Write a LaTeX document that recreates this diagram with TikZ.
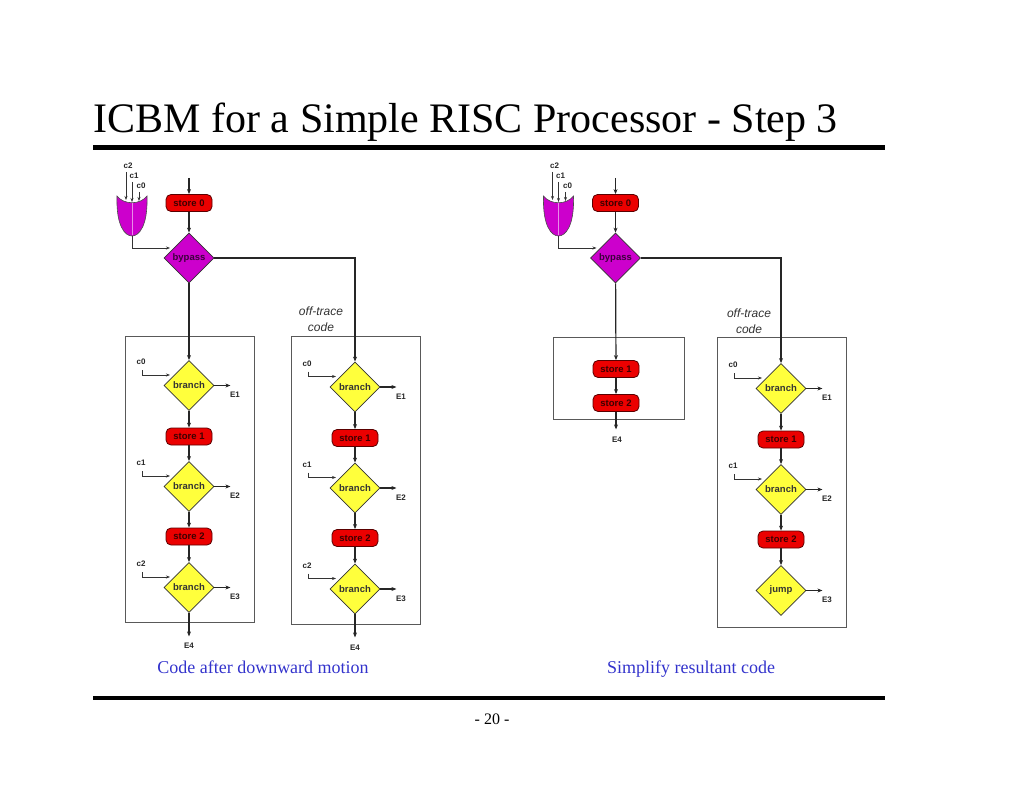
\documentclass[tikz,border=0pt]{standalone}
\usepackage{fontspec}
\setmainfont{Liberation Serif}
\setsansfont{Liberation Sans}
\usepackage{tikz}
\usetikzlibrary{shapes.geometric,calc,arrows.meta}
\definecolor{storered}{RGB}{235,0,0}
\definecolor{storeedge}{RGB}{90,0,0}
\definecolor{storetext}{RGB}{60,0,0}
\definecolor{bypassmag}{RGB}{204,0,204}
\definecolor{bypasstext}{RGB}{60,0,60}
\definecolor{testyellow}{RGB}{255,255,60}
\definecolor{capblue}{RGB}{51,51,204}

\begin{document}
\begin{tikzpicture}[x=1pt,y=-1pt,
    flow/.style={line width=1.2pt, draw=black!85, -{Stealth[length=5pt,width=4pt]}},
    cond/.style={line width=0.6pt, draw=black!80, -{Stealth[length=4pt,width=3pt]}},
    storebox/.style={rectangle, rounded corners=5pt, fill=storered, draw=storeedge, line width=0.8pt,
      minimum width=46pt, minimum height=17pt, inner sep=0pt,
      font=\sffamily\bfseries\fontsize{9.5}{9.5}\selectfont, text=storetext},
    test/.style={diamond, minimum width=50pt, minimum height=50pt, inner sep=0pt, draw=black!80,
      line width=0.8pt, fill=testyellow, font=\sffamily\bfseries\fontsize{9.5}{9.5}\selectfont, text=black!80},
    bypassnode/.style={test, fill=bypassmag, text=bypasstext},
    tag/.style={font=\sffamily\bfseries\fontsize{8}{8}\selectfont, text=black!85},
    region/.style={draw=black!65, line width=0.7pt},
    caption/.style={font=\fontsize{18}{18}\selectfont, text=capblue, anchor=base}]
  \useasboundingbox (0,0) rectangle (1024,791);

  % title and rules
  \node[anchor=base west, font=\fontsize{42}{42}\selectfont] (title) at (90,133)
    {ICBM for a Simple RISC Processor - Step 3};
  \draw[line width=5pt] (93,147.5) -- (885,147.5);
  \draw[line width=4.5pt] (93,698) -- (885,698);
  \node[font=\fontsize{16}{16}\selectfont, anchor=base] (page) at (492,724) {- 20 -};

  % regions
  \draw[region] (125,336) rectangle (254,622);
  \draw[region] (291,336) rectangle (420,624);
  \draw[region] (553,337) rectangle (684,419);
  \draw[region] (717,337) rectangle (846,627);
  \node[align=center, font=\sffamily\itshape\fontsize{12}{16}\selectfont, text=black!80] (otl) at (321,319) {off-trace\\code};
  \node[align=center, font=\sffamily\itshape\fontsize{12}{16}\selectfont, text=black!80] (otr) at (749,321) {off-trace\\code};

  % store 0, bypass and the or gate
  \foreach \s/\dx in {l/0, r/426.5}{
    \begin{scope}[xshift=\dx pt]
      \coordinate (in\s) at (189,178);
      \node[storebox] (s0\s) at (189,203) {store 0};
      \node[bypassnode] (bp\s) at (189,258) {bypass};
      \draw[flow] (in\s) -- (s0\s);
      \draw[flow] (s0\s) -- (bp\s);
      \draw[fill=bypassmag, draw=black!70, line width=0.6pt] (117,196)
        .. controls (116,226) and (125,236) .. (132,236)
        .. controls (139,236) and (148,226) .. (147,196)
        .. controls (140,205) and (124,205) .. cycle;
      \draw[white!55!bypassmag, line width=0.6pt] (132,203) -- (132,235);
      \coordinate (or\s) at (132,236);
      \foreach \k/\gx/\ly/\ty in {2/126/172/200, 1/132/182/202, 0/139/192/201}{
        \node[tag] (c\k\s) at (\gx+2,\ly-6) {c\k};
        \coordinate (ct\k\s) at (\gx,\ly);
        \draw[cond] (ct\k\s) -- (\gx,\ty);
      }
      \draw[cond] (or\s) |- ($(bp\s)+(-19,-10)$);
    \end{scope}
  }

  % branch columns
  \foreach \c/\x/\y/\last/\nc in {a/189/385.5/branch/3, b/355/387/branch/3, d/781/388.5/jump/2}{
    \node[test] (br1\c) at (\x,\y) {branch};
    \node[storebox] (st1\c) at (\x,\y+51) {store 1};
    \node[test] (br2\c) at (\x,\y+101) {branch};
    \node[storebox] (st2\c) at (\x,\y+151) {store 2};
    \node[test] (br3\c) at (\x,\y+202) {\last};
    \draw[flow] (br1\c) -- (st1\c);
    \draw[flow] (st1\c) -- (br2\c);
    \draw[flow] (br2\c) -- (st2\c);
    \draw[flow] (st2\c) -- (br3\c);
    \foreach \i in {1,2,3}{
      \draw[flow] (br\i\c.east) -- ++(16,0) coordinate (ex\i\c);
      \node[tag] (e\i\c) at ($(br\i\c)+(46,9.5)$) {E\i};
    }
    \foreach \i in {1,...,\nc}{
      \pgfmathtruncatemacro{\j}{\i-1}
      \node[tag] (cl\i\c) at ($(br\i\c)+(-48,-23.5)$) {c\j};
      \coordinate (ci\i\c) at ($(br\i\c)+(-47,-15.5)$);
      \draw[cond] (ci\i\c) |- ($(br\i\c)+(-19,-10.5)$);
    }
  }
  \draw[flow] (br3a.south) -- ++(0,23.5) coordinate (x4a);
  \node[tag] (e4a) at (189,646) {E4};
  \draw[flow] (br3b.south) -- ++(0,23) coordinate (x4b);
  \node[tag] (e4b) at (355,648) {E4};

  % trace code after simplifying
  \node[storebox] (st1c) at (616,369) {store 1};
  \node[storebox] (st2c) at (616,403) {store 2};
  \draw[flow] (st1c) -- (st2c);
  \draw[flow] (st2c.south) -- ++(0,17.5) coordinate (x4c);
  \node[tag] (e4c) at (617,440) {E4};

  % bypass connections
  \draw[flow] (bpl) -- (br1a);
  \draw[flow] (bpl.east) -| (br1b.north);
  \draw[flow] (bpr) -- (st1c);
  \draw[flow] (bpr.east) -| (br1d.north);

  \node[caption] (capl) at (263,673) {Code after downward motion};
  \node[caption] (capr) at (691,673) {Simplify resultant code};
\end{tikzpicture}
\end{document}
